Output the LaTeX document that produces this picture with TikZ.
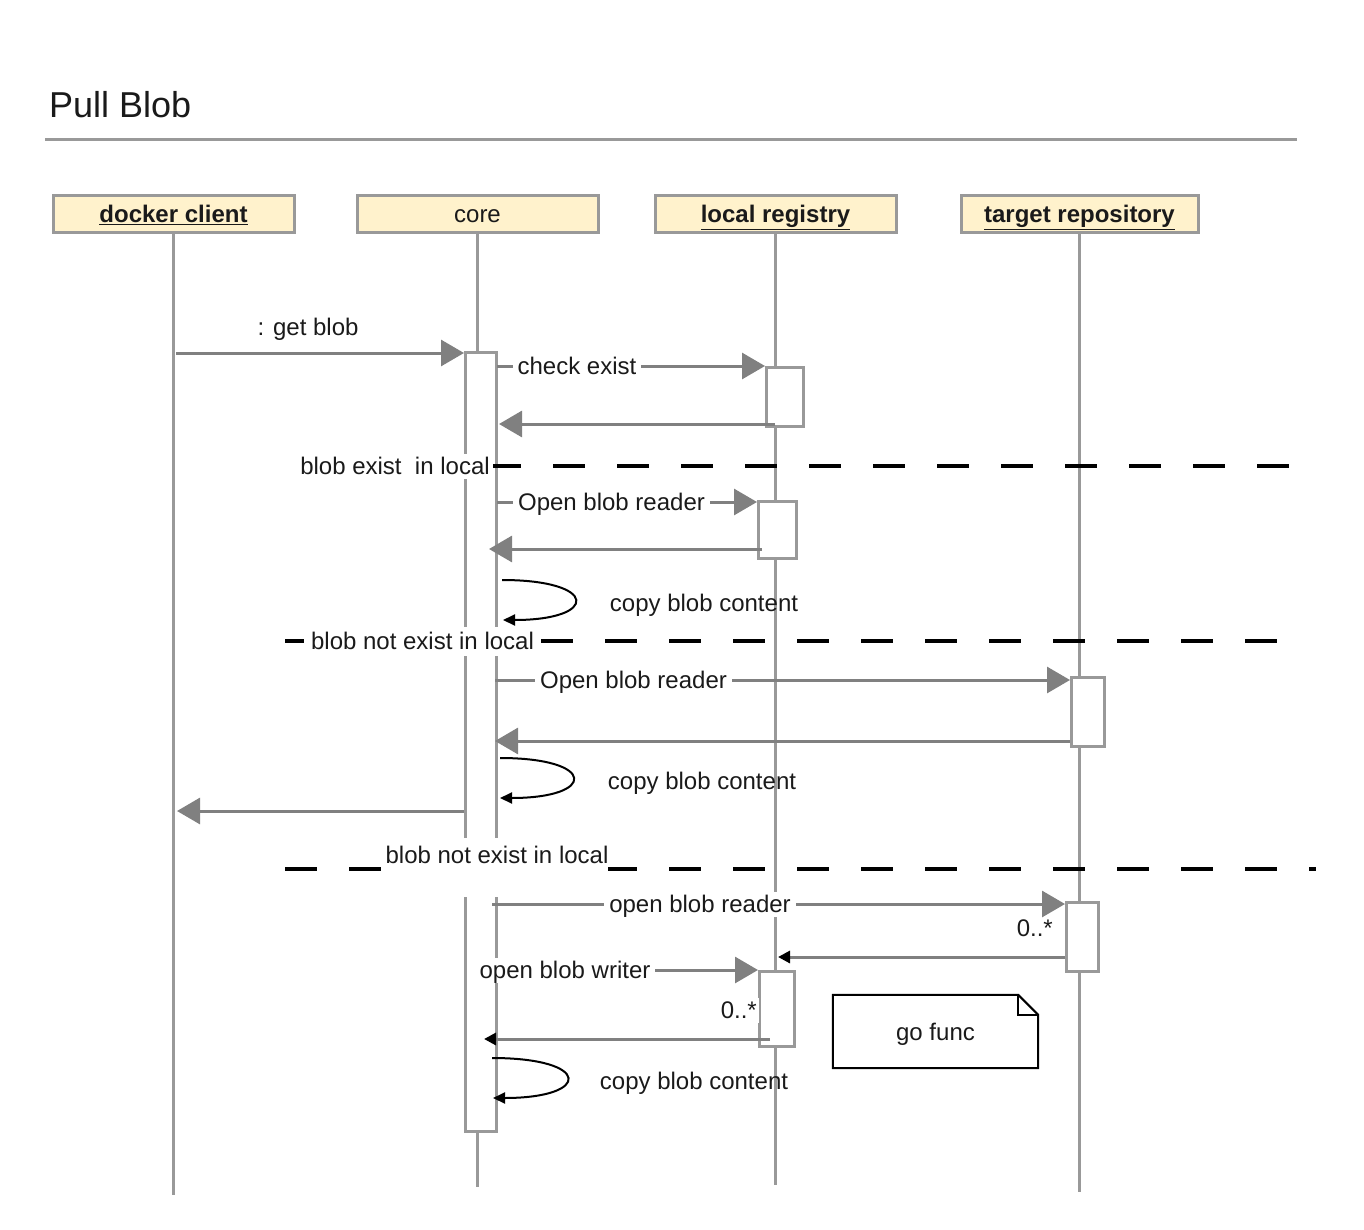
\documentclass[tikz,border=0pt]{standalone}
\usepackage{fontspec}
\setmainfont{Liberation Sans}
\usetikzlibrary{arrows.meta}
\definecolor{hdrfill}{HTML}{FFF2CC}
\definecolor{lifegray}{HTML}{999999}
\definecolor{arrgray}{HTML}{808080}
\definecolor{ink}{HTML}{1A1A1A}
\begin{document}
\begin{tikzpicture}[x=1pt,y=-1pt,
  every node/.style={font=\fontsize{24}{28}\selectfont, text=ink},
  hdr/.style={draw=lifegray, line width=3pt, fill=hdrfill, minimum height=37pt, inner sep=0pt, text height=20pt, text depth=3pt},
  life/.style={draw=lifegray, line width=2.5pt},
  actbox/.style={draw=lifegray, line width=2.5pt, fill=white, inner sep=0pt, anchor=north west},
  msg/.style={draw=arrgray, line width=3pt, -{Triangle[length=23pt,width=26pt]}},
  rmsg/.style={draw=arrgray, line width=3pt, -{Triangle[length=12pt,width=12pt,color=black]}},
  selfloop/.style={draw=black, line width=2pt, -{Triangle[length=12pt,width=11pt]}},
  fragline/.style={draw=black, line width=4pt, dash pattern=on 32pt off 32pt},
  lbl/.style={fill=white, inner xsep=5pt, inner ysep=1pt, text height=20pt, text depth=3pt},
  txt/.style={inner sep=0pt, text height=20pt, text depth=3pt},
]
\useasboundingbox (0,0) rectangle (1364,1230);

% title
\node[anchor=base west, inner sep=0pt, font=\fontsize{36}{40}\selectfont] (title) at (49,118) {Pull Blob};
\coordinate (ruleA) at (45,140);
\coordinate (ruleB) at (1297,140);
\draw[lifegray, line width=3pt] (ruleA) -- (ruleB);

% headers
\node[hdr, minimum width=241pt] (dc) at (173.5,214.5) {\textbf{\underline{docker client}}};
\node[hdr, minimum width=241pt] (core) at (477.5,214.5) {core};
\node[hdr, minimum width=241pt] (lr) at (775.5,214.5) {\textbf{\underline{local registry}}};
\node[hdr, minimum width=237pt] (tr) at (1079.5,214.5) {\textbf{\underline{target repository}}};

% lifelines
\coordinate (dcEnd) at (173.5,1195);
\coordinate (coreEnd) at (477.5,1187);
\coordinate (lrEnd) at (775.5,1185);
\coordinate (trEnd) at (1079.5,1192);
\draw[life] (dc.south) -- (dcEnd);
\draw[life] (core.south) -- (coreEnd);
\draw[life] (lr.south) -- (lrEnd);
\draw[life] (tr.south) -- (trEnd);

% activation boxes
\node[actbox, minimum width=31pt, minimum height=779pt] (cbar) at (464,351) {};
\node[actbox, minimum width=37pt, minimum height=59pt] (lb1) at (765,366) {};
\node[actbox, minimum width=38pt, minimum height=57pt] (lb2) at (757,500) {};
\node[actbox, minimum width=35pt, minimum height=75pt] (lb3) at (758,970) {};
\node[actbox, minimum width=33pt, minimum height=69pt] (tb1) at (1070,676) {};
\node[actbox, minimum width=32pt, minimum height=69pt] (tb2) at (1065,901) {};

% --- get blob
\coordinate (m1a) at (176,353);
\coordinate (m1b) at (464,353);
\draw[msg] (m1a) -- (m1b);
\node[txt] (m1l) at (308,327) {: get blob};

% --- check exist
\coordinate (m2a) at (497,366);
\coordinate (m2b) at (765,366);
\draw[msg] (m2a) -- (m2b);
\node[lbl] (m2l) at (577,366) {check exist};
\coordinate (m3a) at (775,424);
\coordinate (m3b) at (499,424);
\draw[msg] (m3a) -- (m3b);

% --- fragment 1
\coordinate (f1a) at (297,466);
\coordinate (f1b) at (1290,466);
\draw[fragline] (f1a) -- (f1b);
\node[lbl, inner xsep=3pt] (f1l) at (395,466) {blob exist\ \ in local};

% --- open blob reader (local)
\coordinate (m4a) at (497,502);
\coordinate (m4b) at (757,502);
\draw[msg] (m4a) -- (m4b);
\node[lbl] (m4l) at (611.5,502) {Open blob reader};
\coordinate (m5a) at (762,549);
\coordinate (m5b) at (489,549);
\draw[msg] (m5a) -- (m5b);

\coordinate (l1a) at (502,580);
\coordinate (l1b) at (503,620);
\draw[selfloop] (l1a) .. controls (599,580) and (599,620) .. (l1b);
\node[txt] (l1l) at (704,603) {copy blob content};

% --- fragment 2
\coordinate (f2a) at (285,641);
\coordinate (f2b) at (1278,641);
\draw[fragline] (f2a) -- (f2b);
\node[lbl, inner xsep=7pt, inner ysep=3pt] (f2l) at (422.5,641) {blob not exist in local};

% --- open blob reader (target)
\coordinate (m6a) at (495,680);
\coordinate (m6b) at (1070,680);
\draw[msg] (m6a) -- (m6b);
\node[lbl] (m6l) at (633.5,680) {Open blob reader};
\coordinate (m7a) at (1070,741);
\coordinate (m7b) at (495,741);
\draw[msg] (m7a) -- (m7b);

\coordinate (l2a) at (500,758);
\coordinate (l2b) at (500,798);
\draw[selfloop] (l2a) .. controls (597,758) and (597,798) .. (l2b);
\node[txt] (l2l) at (702,781) {copy blob content};

% --- return to client
\coordinate (m8a) at (464,811);
\coordinate (m8b) at (177,811);
\draw[msg] (m8a) -- (m8b);

% --- fragment 3
\coordinate (f3a) at (285,869);
\coordinate (f3b) at (1316,869);
\draw[fragline] (f3a) -- (f3b);
\node[fill=white, inner sep=0pt, minimum width=225pt, minimum height=59pt] (f3bg) at (495.5,867.5) {};
\node[txt] (f3l) at (497,855) {blob not exist in local};

% --- open blob reader (go func)
\coordinate (m9a) at (492,904);
\coordinate (m9b) at (1065,904);
\draw[msg] (m9a) -- (m9b);
\node[lbl] (m9l) at (700,904) {open blob reader};
\node[txt, anchor=east] (n1) at (1053,928) {0..*};
\coordinate (m10a) at (1065,957);
\coordinate (m10b) at (778,957);
\draw[rmsg] (m10a) -- (m10b);

% --- open blob writer
\coordinate (m11a) at (495,970);
\coordinate (m11b) at (758,970);
\draw[msg] (m11a) -- (m11b);
\node[lbl] (m11l) at (565,970) {open blob writer};
\node[lbl, inner xsep=2pt, anchor=east] (n2) at (759,1010) {0..*};
\coordinate (m12a) at (770,1039);
\coordinate (m12b) at (484,1039);
\draw[rmsg] (m12a) -- (m12b);

\coordinate (l3a) at (492,1058);
\coordinate (l3b) at (493,1098);
\draw[selfloop] (l3a) .. controls (592,1058) and (592,1098) .. (l3b);
\node[txt] (l3l) at (694,1081) {copy blob content};

% --- note
\node[inner sep=0pt, minimum width=205pt, minimum height=73pt, text height=20pt, text depth=3pt] (note) at (935.5,1031.5) {go func};
\draw[black, line width=2pt] (note.north west) -- ([xshift=-20pt]note.north east) -- ([yshift=-20pt]note.north east) -- (note.south east) -- (note.south west) -- cycle;
\draw[black, line width=2pt] ([xshift=-20pt]note.north east) -- ([xshift=-20pt,yshift=-20pt]note.north east) -- ([yshift=-20pt]note.north east);

\end{tikzpicture}
\end{document}
